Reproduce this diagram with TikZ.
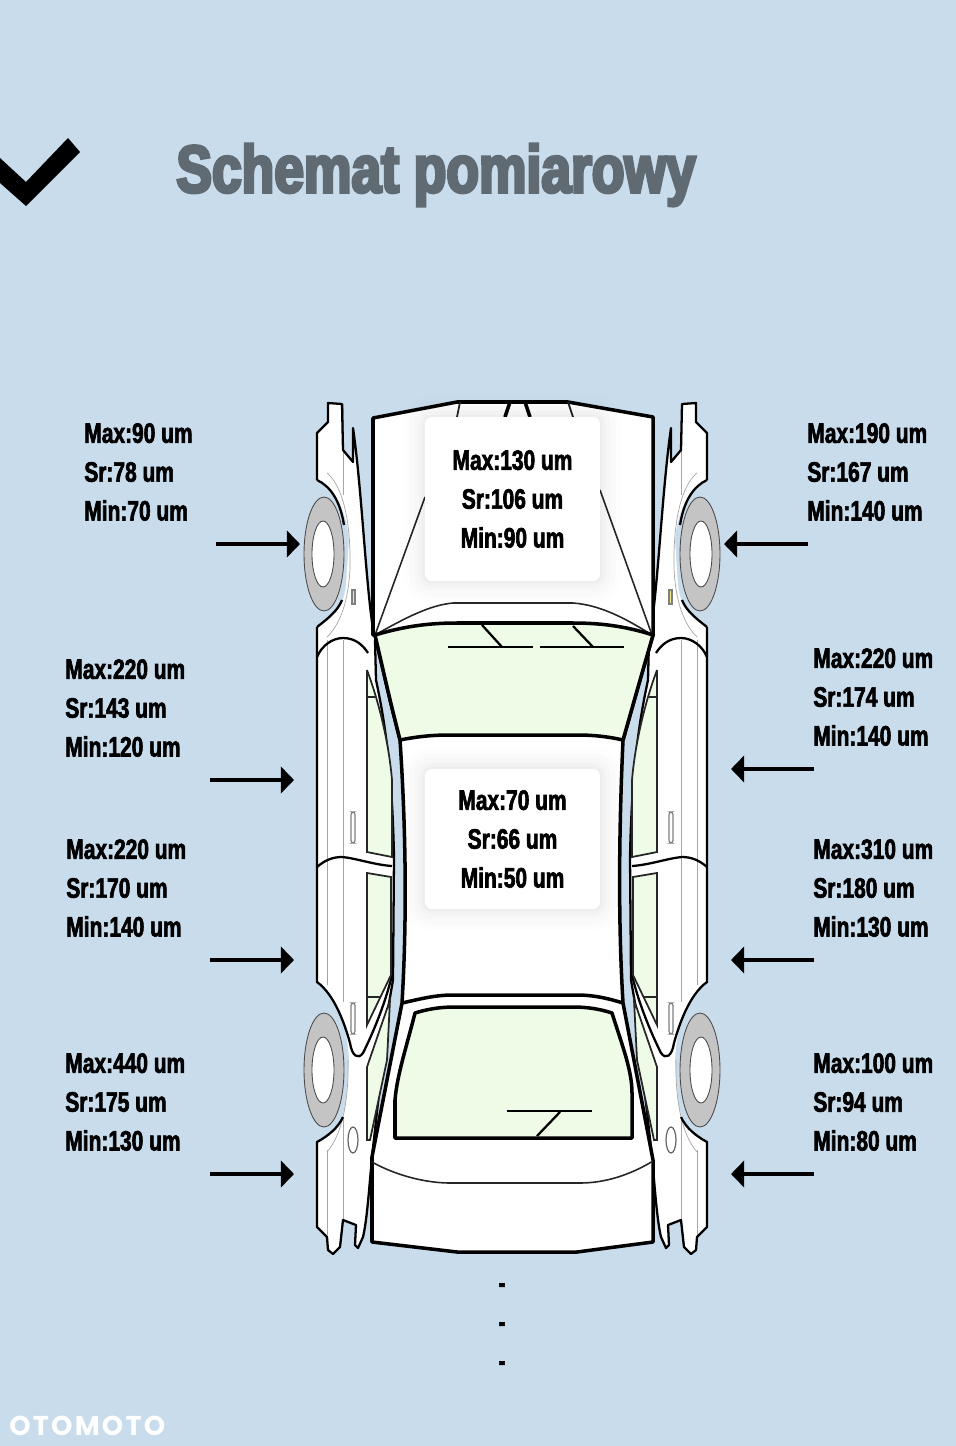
\documentclass[tikz,border=0pt]{standalone}
\usepackage{fontspec}
\usetikzlibrary{arrows.meta}
\setmainfont{Liberation Sans}
\newfontfamily\valfont{Liberation Sans}[UprightFont=* Bold,FakeStretch=0.745,FakeBold=2.2]
\newfontfamily\titlefont{Liberation Sans}[UprightFont=* Bold,FakeStretch=0.8,FakeBold=4.5]
\newfontfamily\logofont{Poppins}[UprightFont=* Bold,LetterSpace=8]
\definecolor{bgblue}{HTML}{C9DCEC}
\definecolor{glass}{HTML}{EEFBE6}
\definecolor{wheelgrey}{HTML}{C4C4C4}
\definecolor{titlegrey}{HTML}{5F6A72}
\definecolor{lampyellow}{HTML}{EFE98A}

% one side of the car, the other one is mirrored
\newcommand{\carside}{
\fill[white] (328,403) -- (342,404) -- (343,450) -- (353,462) -- (353,428) .. controls (362,490) and (366,590) .. (374,635) -- (376,680) .. controls (383,713) and (392,760) .. (394,857) -- (393,980) -- (389,1003) -- (372,1157) .. controls (369,1190) and (367,1220) .. (363,1237) -- (358,1248) -- (355,1245) -- (356,1225) -- (343,1220) -- (340,1247) -- (333,1254) -- (328,1250) -- (327,1237) -- (317,1227) -- (317,1142) .. controls (332,1133) and (343,1125) .. (346,1100) -- (349,1060) .. controls (347,1020) and (335,995) .. (317,982) -- (317,627) .. controls (332,617) and (343,610) .. (346,585) -- (349,540) .. controls (345,505) and (335,490) .. (317,480) -- (317,433) -- (328,422) -- cycle;
\draw[greyline] (327,640) -- (327,985);
\draw[greyline] (327,1150) -- (327,1235);
\draw[greyline] (343,640) -- (343,1002);
\draw[greyline] (343,1118) -- (343,1220);
\draw[greyline] (343,404) -- (343,495);
\draw[greyline] (327,473) .. controls (342,485) and (351,520) .. (350,567) .. controls (349,600) and (340,625) .. (327,637);
\draw[greyline] (348,1060) .. controls (349,1100) and (342,1135) .. (327,1152);
\fill[wheelgrey, draw=black!70, line width=0.5pt] (324,554) ellipse (20 and 57);
\fill[white, draw=black!70, line width=0.5pt] (323,554) ellipse (11 and 33);
\fill[wheelgrey, draw=black!70, line width=0.5pt] (324,1070) ellipse (20 and 57);
\fill[white, draw=black!70, line width=0.5pt] (323,1070) ellipse (11 and 33);
\draw[midline] (317,480) -- (317,433) -- (328,422) -- (328,403) -- (342,404) -- (343,450) -- (353,462) -- (353,428) .. controls (362,490) and (366,590) .. (374,635);
\draw[midline] (317,480) .. controls (330,486) and (340,500) .. (344,525);
\draw[midline] (317,627) .. controls (330,617) and (338,610) .. (342,600);
\draw[midline] (317,627) -- (317,982) .. controls (335,995) and (345,1025) .. (350,1043) .. controls (352,1056) and (358,1060) .. (363,1053) .. controls (372,1035) and (385,1005) .. (392,975);
\draw[midline] (343,1117) .. controls (338,1128) and (328,1136) .. (317,1142) -- (317,1227) -- (327,1237) -- (328,1250) -- (333,1254) -- (340,1247) -- (343,1220) -- (356,1225) -- (355,1245) -- (358,1248) -- (363,1237) .. controls (367,1220) and (369,1190) .. (372,1157);
\draw[midline] (375,640) -- (376,680) .. controls (383,713) and (392,760) .. (394,857) -- (393,980) -- (389,1003) -- (372,1157);
% door lines
\draw[midline] (317,657) .. controls (322,645) and (333,638) .. (343,638) .. controls (355,638) and (363,645) .. (368,653);
\draw[midline] (317,867) .. controls (325,860) and (333,857) .. (342,857) .. controls (355,858) and (375,865) .. (392,866);
% windows
\draw[glassline] (367,670) -- (367,852) -- (392,857) -- (392,780) .. controls (389,745) and (380,705) .. (367,670);
\draw[thinline] (367,697) -- (375,697);
\draw[glassline] (367,873) -- (391,877) -- (391,975) -- (367,1025) -- cycle;
\draw[thinline] (367,997) -- (381,997);
\draw[glassline] (367,1067) -- (390,1000) -- (387,1060) -- (370,1140) -- (367,1140) -- cycle;
\draw[thinline, draw=black!50, rounded corners=1.5pt, fill=white] (351,812) rectangle (355,843);
\draw[thinline, draw=black!50, rounded corners=1.5pt, fill=white] (351,1003) rectangle (355,1034);
\draw[thinline, draw=black!50, fill=lampyellow] (352,590) rectangle (355,604);
\draw[thinline, draw=black!60, fill=white] (353,1140) ellipse (5 and 13);
}

\begin{document}
\begin{tikzpicture}[x=0.02cm,y=-0.02cm,
  valtext/.style={inner sep=0pt,font=\valfont\fontsize{16}{22.1}\selectfont,text=black},
  vleft/.style={valtext,align=left,anchor=west},
  valbox/.style={valtext,align=center,fill=white,rounded corners=4pt,minimum width=3.5cm,
    preaction={draw=black,draw opacity=0.008,line width=24pt},
    preaction={draw=black,draw opacity=0.01,line width=18pt},
    preaction={draw=black,draw opacity=0.012,line width=12pt},
    preaction={draw=black,draw opacity=0.015,line width=7pt},
    preaction={draw=black,draw opacity=0.02,line width=3pt}},
  marrow/.style={-{Triangle[length=7.5pt,width=15pt]},line width=2.2pt,black},
  thickline/.style={line width=2pt,black,line join=round},
  midline/.style={line width=1.3pt,black,line join=round},
  thinline/.style={line width=0.7pt,black!85},
  glassline/.style={line width=1pt,black!85,fill=glass},
  greyline/.style={line width=0.4pt,black!35}]

\useasboundingbox (0,0) rectangle (956,1446);
\fill[bgblue] (0,0) rectangle (956,1446);

\fill[black] (0,158) -- (26,182) -- (68,138) -- (80,152) -- (26,206) -- (0,183) -- cycle;
\node[inner sep=0pt,anchor=west,text=titlegrey,font=\titlefont\fontsize{38}{42}\selectfont] (title) at (176,175) {Schemat pomiarowy};

\carside
\begin{scope}[shift={(1024,0)},xscale=-1]
\carside
\end{scope}

% body
\draw[thickline,fill=white] (373,418) -- (457,402) -- (568,402) -- (653,417) -- (653,635) .. controls (640,680) .. (623,740) .. controls (619,830) and (618,920) .. (623,1003) -- (653,1160) -- (653,1242) -- (577,1252) -- (457,1252) -- (372,1242) -- (372,1157) -- (402,1003) .. controls (407,920) and (406,830) .. (400,740) .. controls (390,700) .. (375,635) -- (373,635) -- cycle;
\draw[thinline,line width=1pt] (457,417) -- (460,402);
\draw[thinline,line width=1pt] (573,417) -- (568,402);
\draw[thickline] (505,417) -- (510,402) -- (525,402) -- (530,417);
\draw[thinline,line width=0.9pt] (375,635) -- (425,497);
\draw[thinline,line width=0.9pt] (600,490) -- (652,635);
\draw[thinline,line width=0.9pt] (375,635) .. controls (405,618) and (430,605) .. (453,603) -- (573,603) .. controls (600,605) and (625,618) .. (652,635);

% windscreen
\draw[thickline,fill=glass] (375,635) .. controls (405,626) and (430,623) .. (457,623) -- (573,623) .. controls (600,623) and (625,626) .. (653,635) .. controls (640,680) .. (623,740) .. controls (610,737) and (595,735) .. (577,735) -- (450,735) .. controls (430,735) and (415,737) .. (400,740) .. controls (390,700) .. (375,635) -- cycle;
\draw[midline] (448,647) -- (533,647);
\draw[midline] (482,625) -- (502,647);
\draw[midline] (540,647) -- (624,647);
\draw[midline] (573,626) -- (593,647);

% rear
\draw[thickline] (402,1003) .. controls (420,999) and (435,995) .. (453,995) -- (577,995) .. controls (595,995) and (610,999) .. (623,1003);
\draw[thickline,fill=glass] (415,1013) .. controls (428,1009) and (440,1007) .. (455,1007) -- (573,1007) .. controls (587,1007) and (600,1009) .. (612,1013) .. controls (622,1045) and (632,1070) .. (632,1093) -- (632,1138) -- (395,1138) -- (395,1100) .. controls (397,1075) and (407,1045) .. (415,1013) -- cycle;
\draw[midline] (507,1111) -- (592,1111);
\draw[midline] (560,1112) -- (537,1136);
\draw[thinline,line width=0.9pt] (372,1162) .. controls (395,1175) and (425,1183) .. (450,1183) -- (580,1183) .. controls (605,1183) and (630,1175) .. (653,1161);

\node[valbox,minimum height=3.28cm] (hood) at (512.5,499) {Max:130 um\\Sr:106 um\\Min:90 um};
\node[valbox,minimum height=2.8cm] (roof) at (512.5,839) {Max:70 um\\Sr:66 um\\Min:50 um};

\node[vleft] (fl1) at (84,472) {Max:90 um\\Sr:78 um\\Min:70 um};
\node[vleft] (fl2) at (65,708) {Max:220 um\\Sr:143 um\\Min:120 um};
\node[vleft] (fl3) at (66,888) {Max:220 um\\Sr:170 um\\Min:140 um};
\node[vleft] (fl4) at (65,1102) {Max:440 um\\Sr:175 um\\Min:130 um};
\node[vleft] (fr1) at (807,472) {Max:190 um\\Sr:167 um\\Min:140 um};
\node[vleft] (fr2) at (813,697) {Max:220 um\\Sr:174 um\\Min:140 um};
\node[vleft] (fr3) at (813,888) {Max:310 um\\Sr:180 um\\Min:130 um};
\node[vleft] (fr4) at (813,1102) {Max:100 um\\Sr:94 um\\Min:80 um};

\coordinate (al1a) at (216,544);
\coordinate (al1b) at (300,544);
\coordinate (al2a) at (210,780);
\coordinate (al2b) at (294,780);
\coordinate (al3a) at (210,960);
\coordinate (al3b) at (294,960);
\coordinate (al4a) at (210,1174);
\coordinate (al4b) at (294,1174);
\coordinate (ar1a) at (808,544);
\coordinate (ar1b) at (724,544);
\coordinate (ar2a) at (814,769);
\coordinate (ar2b) at (731,769);
\coordinate (ar3a) at (814,960);
\coordinate (ar3b) at (731,960);
\coordinate (ar4a) at (814,1174);
\coordinate (ar4b) at (731,1174);
\draw[marrow] (al1a) -- (al1b);
\draw[marrow] (al2a) -- (al2b);
\draw[marrow] (al3a) -- (al3b);
\draw[marrow] (al4a) -- (al4b);
\draw[marrow] (ar1a) -- (ar1b);
\draw[marrow] (ar2a) -- (ar2b);
\draw[marrow] (ar3a) -- (ar3b);
\draw[marrow] (ar4a) -- (ar4b);

\node[valtext] (d1) at (502,1288) {-};
\node[valtext] (d2) at (502,1327) {-};
\node[valtext] (d3) at (502,1366) {-};

\node[inner sep=0pt,anchor=west,text=white,font=\logofont\fontsize{15.5}{17}\selectfont] (logo) at (9,1426) {OTOMOTO};
\end{tikzpicture}
\end{document}
